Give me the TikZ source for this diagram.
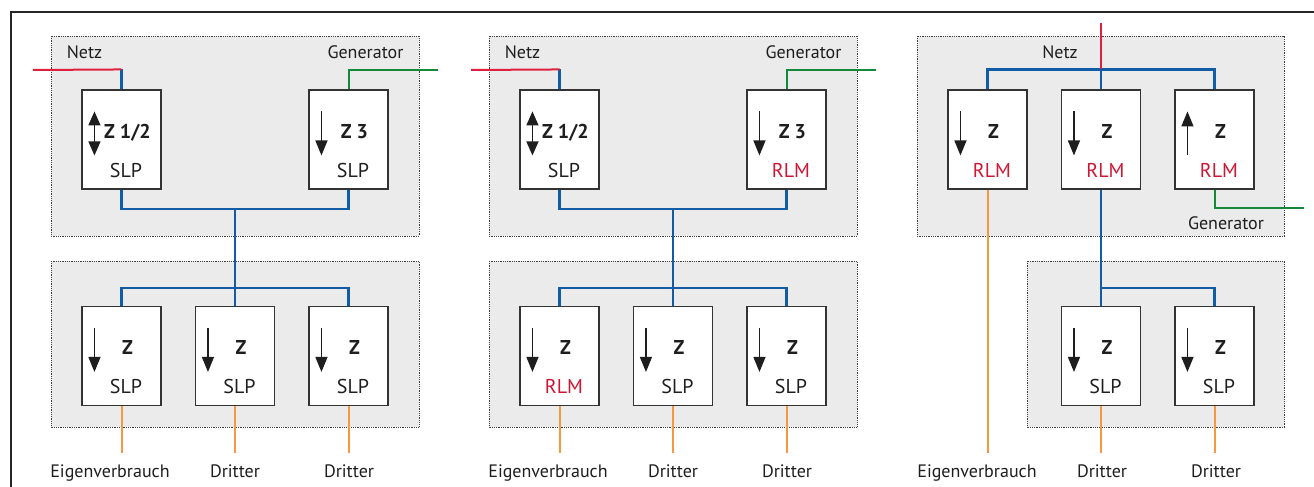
\documentclass[tikz,border=0pt]{standalone}
\usepackage{fontspec}
\setmainfont{PT Sans}
\usetikzlibrary{arrows.meta}
\definecolor{blau}{RGB}{18,92,165}
\definecolor{netzrot}{RGB}{222,32,62}
\definecolor{rlmrot}{RGB}{206,22,52}
\definecolor{gruen}{RGB}{22,136,58}
\definecolor{lastorange}{RGB}{244,152,68}
\definecolor{hellgrau}{RGB}{235,235,235}
\definecolor{schrift}{RGB}{30,30,30}

\begin{document}
\begin{tikzpicture}[x=1pt,y=-1pt,font=\fontsize{18}{21}\selectfont,
   gruppe/.style={draw=black!75,densely dotted,line width=0.8pt,fill=hellgrau},
   zaehler/.style={draw=black!80,line width=1.1pt,fill=white,minimum width=79pt,minimum height=99pt,inner sep=0pt},
   nummer/.style={anchor=base,text=schrift,font=\fontsize{20}{23}\selectfont\bfseries},
   SLP/.style={anchor=base,text=schrift,font=\fontsize{20}{23}\selectfont},
   RLM/.style={anchor=base,text=rlmrot,font=\fontsize{20}{23}\selectfont},
   beschriftung/.style={anchor=base,text=schrift},
   ab/.style={-{Triangle[width=12pt,length=15pt]}},
   auf/.style={{Triangle[width=12pt,length=15pt]}-},
   beide/.style={{Triangle[width=12pt,length=14pt]}-{Triangle[width=12pt,length=14pt]}},
   bus/.style={draw=blau,line width=2.4pt},
   netz/.style={draw=netzrot,line width=2pt},
   gen/.style={draw=gruen,line width=2pt},
   last/.style={draw=lastorange,line width=2pt}]

  \useasboundingbox (0,0) rectangle (1314,487);
  \draw[line width=1.4pt,black!85] (11,487) -- (11,12) -- (1314,12);

  \foreach \p/\dx/\tc/\td in {1/0/SLP/SLP,2/438/RLM/RLM} {
    \path[gruppe] (51+\dx,36) rectangle (419+\dx,236);
    \path[gruppe] (51+\dx,261) rectangle (419+\dx,427);
    \node[zaehler] (a\p) at (121.5+\dx,139.5) {};
    \node[zaehler] (c\p) at (348.5+\dx,139.5) {};
    \node[zaehler] (d\p) at (121.5+\dx,356) {};
    \node[zaehler] (e\p) at (235+\dx,356) {};
    \node[zaehler] (f\p) at (348.5+\dx,356) {};
    \node[beschriftung] (netz\p) at (84.5+\dx,59) {Netz};
    \node[beschriftung] (gen\p) at (365.5+\dx,59) {Generator};
    \node[beschriftung] (ev\p) at (110+\dx,477) {Eigenverbrauch};
    \node[beschriftung] (dra\p) at (235+\dx,477) {Dritter};
    \node[beschriftung] (drb\p) at (349+\dx,477) {Dritter};
    \coordinate (rot\p) at (33+\dx,70);
    \coordinate (gruen\p) at (438+\dx,70);
    \coordinate (m\p) at (235+\dx,209);
    \coordinate (v\p) at (235+\dx,288);
    \draw[bus] (a\p.north) -- ++(0,-20) coordinate (k\p);
    \draw[netz] (k\p) -- (rot\p);
    \draw[gen] (c\p.north) |- (gruen\p);
    \draw[bus] (a\p.south) |- (m\p) -| (c\p.south);
    \draw[bus] (m\p) -- (v\p) -- (e\p.north);
    \draw[bus] (d\p.north) |- (v\p) -| (f\p.north);
    \foreach \n in {d,e,f} \draw[last] (\n\p.south) -- ++(0,47);
  }

  \path[gruppe] (917,36) rectangle (1284,236);
  \path[gruppe] (1027,261) rectangle (1284,427);
  \node[zaehler] (a3) at (987.5,139.5) {};
  \node[zaehler] (b3) at (1101,139.5) {};
  \node[zaehler] (c3) at (1214.5,139.5) {};
  \node[zaehler] (e3) at (1101,356) {};
  \node[zaehler] (f3) at (1214.5,356) {};
  \node[beschriftung] (netz3) at (1060,59) {Netz};
  \node[beschriftung] (gen3) at (1226,229) {Generator};
  \node[beschriftung] (ev3) at (977,477) {Eigenverbrauch};
  \node[beschriftung] (dra3) at (1102,477) {Dritter};
  \node[beschriftung] (drb3) at (1216,477) {Dritter};
  \coordinate (rot3) at (1101,23);
  \coordinate (gruen3) at (1304,208);
  \coordinate (v3) at (1101,288);
  \draw[bus] (a3.north) -- ++(0,-20) -| (c3.north);
  \draw[bus] (b3.north) -- ++(0,-20) coordinate (k3);
  \draw[netz] (k3) -- (rot3);
  \draw[gen] (c3.south) |- (gruen3);
  \draw[last] (a3.south) -- ++(0,263);
  \draw[bus] (b3.south) -- (v3) -- (e3.north);
  \draw[bus] (v3) -| (f3.north);
  \foreach \n in {e3,f3} \draw[last] (\n.south) -- ++(0,47);

  \foreach \n/\r/\z/\t in {a1/beide/{Z 1/2}/SLP,c1/ab/Z 3/SLP,d1/ab/Z/SLP,e1/ab/Z/SLP,f1/ab/Z/SLP,
      a2/beide/{Z 1/2}/SLP,c2/ab/Z 3/RLM,d2/ab/Z/RLM,e2/ab/Z/SLP,f2/ab/Z/SLP,
      a3/ab/Z/RLM,b3/ab/Z/RLM,c3/auf/Z/RLM,e3/ab/Z/SLP,f3/ab/Z/SLP} {
    \draw[\r,line width=1.3pt,schrift] ([shift={(13,22)}]\n.north west) -- ([shift={(13,66)}]\n.north west);
    \node[nummer] (z\n) at ([shift={(46,49)}]\n.north west) {\z};
    \node[\t] (t\n) at ([shift={(44.5,88)}]\n.north west) {\t};
  }
\end{tikzpicture}
\end{document}
